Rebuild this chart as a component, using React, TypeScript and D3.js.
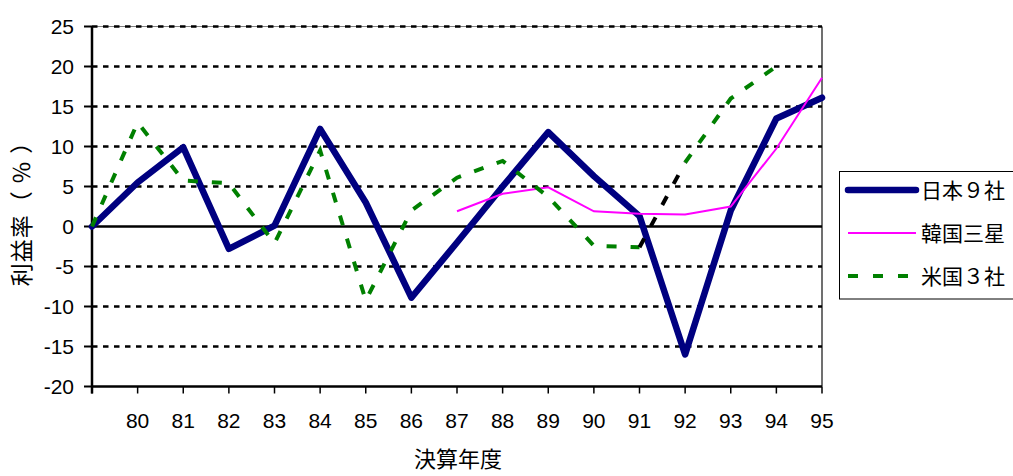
import React, { useEffect, useRef } from 'react';
import * as d3 from 'd3';

// 決算年度（先頭は原点用の空カテゴリ）
const years = ['', '80', '81', '82', '83', '84', '85', '86', '87', '88', '89', '90', '91', '92', '93', '94', '95'];
const japan9 = [0, 5.5, 9.9, -2.8, 0.1, 12.2, 3.0, -8.9, -2.0, 5.0, 11.8, 6.3, 1.3, -16.0, 2.0, 13.5, 16.1];
const samsung = [null, null, null, null, null, null, null, null, 1.9, 4.1, 4.9, 1.9, 1.6, 1.5, 2.5, 9.75, 18.6];
const us3 = [0, 13.0, 5.75, 5.4, -2.1, 9.5, -9.25, 2.0, 6.1, 8.2, 3.7, -2.4, -2.6, 8.0, 16.0, 20.0, null];
const yTicks = [25, 20, 15, 10, 5, 0, -5, -10, -15, -20];

const seriesNames = ['日本９社', '韓国三星', '米国３社'];

const App: React.FC = () => {
  const svgRef = useRef<SVGSVGElement>(null);

  useEffect(() => {
    const width = 1013;
    const height = 476;
    const svg = d3.select(svgRef.current);
    svg.selectAll('*').remove();
    svg.attr('width', width).attr('height', height);

    const left = 92;
    const right = 822;
    const top = 26.5;
    const bottom = 386.5;
    const numFont = '"Liberation Sans", Arial, sans-serif';
    const cjkFont = '"Noto Sans CJK JP", sans-serif';

    const x = d3.scalePoint<string>().domain(years).range([left, right]);
    const y = d3.scaleLinear().domain([-20, 25]).range([bottom, top]);

    // 枠（上・右）
    svg.append('line')
      .attr('x1', left).attr('x2', right).attr('y1', top).attr('y2', top)
      .attr('stroke', '#808080').attr('stroke-width', 1);
    svg.append('line')
      .attr('x1', right).attr('x2', right).attr('y1', top).attr('y2', bottom)
      .attr('stroke', '#404040').attr('stroke-width', 1.5);

    // 目盛線（点線）
    svg.selectAll('.grid')
      .data(yTicks.filter(t => t !== 0 && t !== -20))
      .enter()
      .append('line')
      .attr('class', 'grid')
      .attr('x1', left).attr('x2', right)
      .attr('y1', d => y(d)).attr('y2', d => y(d))
      .attr('stroke', '#000')
      .attr('stroke-width', 2.5)
      .attr('stroke-dasharray', '5.5,5.5');

    // 0 の線
    svg.append('line')
      .attr('x1', left).attr('x2', right).attr('y1', y(0)).attr('y2', y(0))
      .attr('stroke', '#000').attr('stroke-width', 2.5);

    // 横軸
    svg.append('line')
      .attr('x1', left).attr('x2', right).attr('y1', bottom).attr('y2', bottom)
      .attr('stroke', '#000').attr('stroke-width', 2.5);
    svg.selectAll('.xtick')
      .data(years)
      .enter()
      .append('line')
      .attr('x1', d => x(d)!).attr('x2', d => x(d)!)
      .attr('y1', bottom).attr('y2', bottom + 7)
      .attr('stroke', '#000').attr('stroke-width', 1.5);
    svg.selectAll('.xlabel')
      .data(years.filter(d => d !== ''))
      .enter()
      .append('text')
      .attr('x', d => x(d)!)
      .attr('y', 428)
      .attr('text-anchor', 'middle')
      .attr('font-family', numFont)
      .attr('font-size', 21)
      .attr('fill', '#000')
      .text(d => d);

    // 縦軸
    svg.append('line')
      .attr('x1', left).attr('x2', left).attr('y1', top).attr('y2', bottom + 7)
      .attr('stroke', '#000').attr('stroke-width', 2.5);
    svg.selectAll('.ytick')
      .data(yTicks)
      .enter()
      .append('line')
      .attr('x1', left - 8).attr('x2', left)
      .attr('y1', d => y(d)).attr('y2', d => y(d))
      .attr('stroke', '#000').attr('stroke-width', 2);
    svg.selectAll('.ylabel')
      .data(yTicks)
      .enter()
      .append('text')
      .attr('x', 74)
      .attr('y', d => y(d))
      .attr('dy', '0.36em')
      .attr('text-anchor', 'end')
      .attr('font-family', numFont)
      .attr('font-size', 21)
      .attr('fill', '#000')
      .text(d => d);

    // 軸タイトル
    svg.append('text')
      .attr('transform', 'translate(30,208) rotate(-90)')
      .attr('text-anchor', 'middle')
      .attr('font-family', cjkFont)
      .attr('font-size', 23)
      .attr('letter-spacing', 1)
      .attr('fill', '#000')
      .text('利益率（ ％ ）');
    svg.append('text')
      .attr('x', 458)
      .attr('y', 467)
      .attr('text-anchor', 'middle')
      .attr('font-family', cjkFont)
      .attr('font-size', 22)
      .attr('fill', '#000')
      .text('決算年度');

    // 折れ線
    const line = d3.line<number | null>()
      .defined(d => d !== null)
      .x((d, i) => x(years[i])!)
      .y(d => y(d as number));

    svg.append('path')
      .attr('d', line(japan9))
      .attr('fill', 'none')
      .attr('stroke', '#000080')
      .attr('stroke-width', 6.5)
      .attr('stroke-linejoin', 'round')
      .attr('stroke-linecap', 'round');

    svg.append('path')
      .attr('d', line(samsung))
      .attr('fill', 'none')
      .attr('stroke', '#ff00ff')
      .attr('stroke-width', 2);

    // 米国３社：91→92 の区間だけ黒
    const i91 = years.indexOf('91');
    const greenPart1 = us3.map((v, i) => (i <= i91 ? v : null));
    const greenPart2 = us3.map((v, i) => (i >= i91 + 1 ? v : null));
    const blackPart = us3.map((v, i) => (i === i91 || i === i91 + 1 ? v : null));

    [greenPart1, greenPart2].forEach(part => {
      svg.append('path')
        .attr('d', line(part))
        .attr('fill', 'none')
        .attr('stroke', '#008000')
        .attr('stroke-width', 4)
        .attr('stroke-dasharray', '10,14');
    });
    svg.append('path')
      .attr('d', line(blackPart))
      .attr('fill', 'none')
      .attr('stroke', '#000')
      .attr('stroke-width', 4)
      .attr('stroke-dasharray', '10,14');

    // 凡例
    const legend = svg.append('g');
    legend.append('rect')
      .attr('x', 839.5).attr('y', 171.5)
      .attr('width', 200).attr('height', 127.5)
      .attr('fill', '#fff')
      .attr('stroke', '#000')
      .attr('stroke-width', 1);

    const legendStyles = [
      { color: '#000080', width: 6.5, dash: null, cap: 'round' },
      { color: '#ff00ff', width: 2, dash: null, cap: 'butt' },
      { color: '#008000', width: 4, dash: '10,15', cap: 'butt' },
    ];
    const legendY = d3.scalePoint<string>().domain(seriesNames).range([190, 276]);

    seriesNames.forEach((name, i) => {
      const st = legendStyles[i];
      const ly = legendY(name)!;
      legend.append('line')
        .attr('x1', 848).attr('x2', 916)
        .attr('y1', ly).attr('y2', ly)
        .attr('stroke', st.color)
        .attr('stroke-width', st.width)
        .attr('stroke-linecap', st.cap)
        .attr('stroke-dasharray', st.dash);
      legend.append('text')
        .attr('x', 921)
        .attr('y', ly)
        .attr('dy', '0.36em')
        .attr('font-family', cjkFont)
        .attr('font-size', 21)
        .attr('fill', '#000')
        .text(name);
    });
  }, []);

  return (
    <div style={{ position: 'absolute', left: 0, top: 0, width: 1013, height: 476, overflow: 'hidden', background: '#fff' }}>
      <svg ref={svgRef} style={{ display: 'block' }} />
    </div>
  );
};

export default App;
